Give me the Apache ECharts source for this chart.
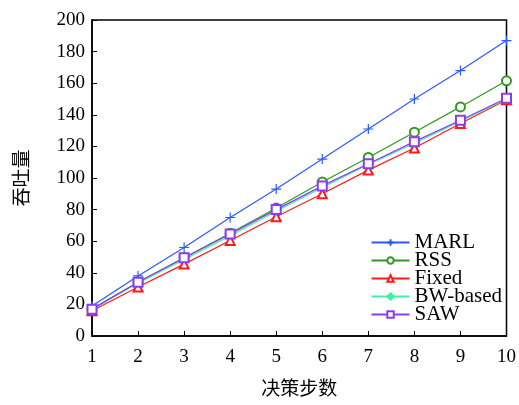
<!DOCTYPE html>
<html>
<head>
<meta charset="utf-8">
<script src="https://cdn.jsdelivr.net/npm/echarts@6/dist/echarts.min.js"></script>
<style>
  html, body { margin: 0; padding: 0; background: #fff; }
  #chart { width: 519px; height: 405px; }
</style>
</head>
<body>
<div id="chart"></div>
<script>
// decision steps on x
const steps = [1, 2, 3, 4, 5, 6, 7, 8, 9, 10];
const marl = [19, 38, 56, 75, 93, 112, 131, 150, 168, 187];
const rss = [17, 34, 49.5, 65, 81, 97.5, 113, 129, 145, 161.5];
const fixed = [16, 31, 45.5, 60.5, 75.5, 90, 105, 119, 134.5, 149.5];
const bwBased = [17, 33.5, 48.5, 63.5, 79, 94, 108.5, 122, 136, 150];
const saw = [17, 34, 49.5, 64.5, 80, 95, 109, 123, 136.5, 150.5];

const serif = '"Liberation Serif", "DejaVu Serif", serif';
const cjk = '"Noto Sans CJK SC", sans-serif';

const pair = (arr) => arr.map((v, i) => [steps[i], v]);
const plus = 'path://M0,5 L10,5 M5,0 L5,10';

const mk = (name, data, color, symbol, size) => ({
  name,
  type: 'line',
  data: pair(data),
  symbol,
  symbolSize: size,
  showAllSymbol: true,
  lineStyle: { color, width: 1.2 },
  itemStyle: { color, borderColor: color, borderWidth: 1.2 },
});

const chart = echarts.init(document.getElementById('chart'), null, { renderer: 'canvas' });
chart.setOption({
  animation: false,
  grid: { left: 92, right: 11, top: 20, bottom: 69, show: true, borderColor: '#000', borderWidth: 1.5 },
  legend: {
    right: 12,
    top: 227,
    orient: 'vertical',
    itemGap: -3,
    itemWidth: 38,
    itemHeight: 8,
    textStyle: { fontFamily: serif, fontSize: 21, color: '#000' },
    data: ['MARL', 'RSS', 'Fixed', 'BW-based', 'SAW'],
  },
  xAxis: {
    type: 'value',
    min: 1,
    max: 10,
    interval: 1,
    name: '决策步数',
    nameLocation: 'middle',
    nameGap: 42,
    nameTextStyle: { fontFamily: cjk, fontSize: 19, color: '#000' },
    axisLine: { lineStyle: { color: '#000', width: 1.5 } },
    axisTick: { inside: true, length: 5, lineStyle: { color: '#000' } },
    axisLabel: { fontFamily: serif, fontSize: 19, color: '#000', margin: 12 },
    splitLine: { show: false },
  },
  yAxis: {
    type: 'value',
    min: 0,
    max: 200,
    interval: 20,
    name: '吞吐量',
    nameLocation: 'middle',
    nameGap: 62,
    nameTextStyle: { fontFamily: cjk, fontSize: 19, color: '#000' },
    axisLine: { show: true, lineStyle: { color: '#000', width: 1.5 } },
    axisTick: { show: true, inside: true, length: 5, lineStyle: { color: '#000' } },
    axisLabel: { fontFamily: serif, fontSize: 19, color: '#000', margin: 7 },
    splitLine: { show: false },
  },
  series: [
    mk('MARL', marl, '#2a5bff', plus, 10),
    mk('RSS', rss, '#2f9a1f', 'emptyCircle', 9),
    mk('Fixed', fixed, '#ff1a1a', 'emptyTriangle', 9),
    mk('BW-based', bwBased, '#3cf2a2', 'diamond', 6),
    mk('SAW', saw, '#8a3cf0', 'emptyRect', 9),
  ],
});
</script>
</body>
</html>
